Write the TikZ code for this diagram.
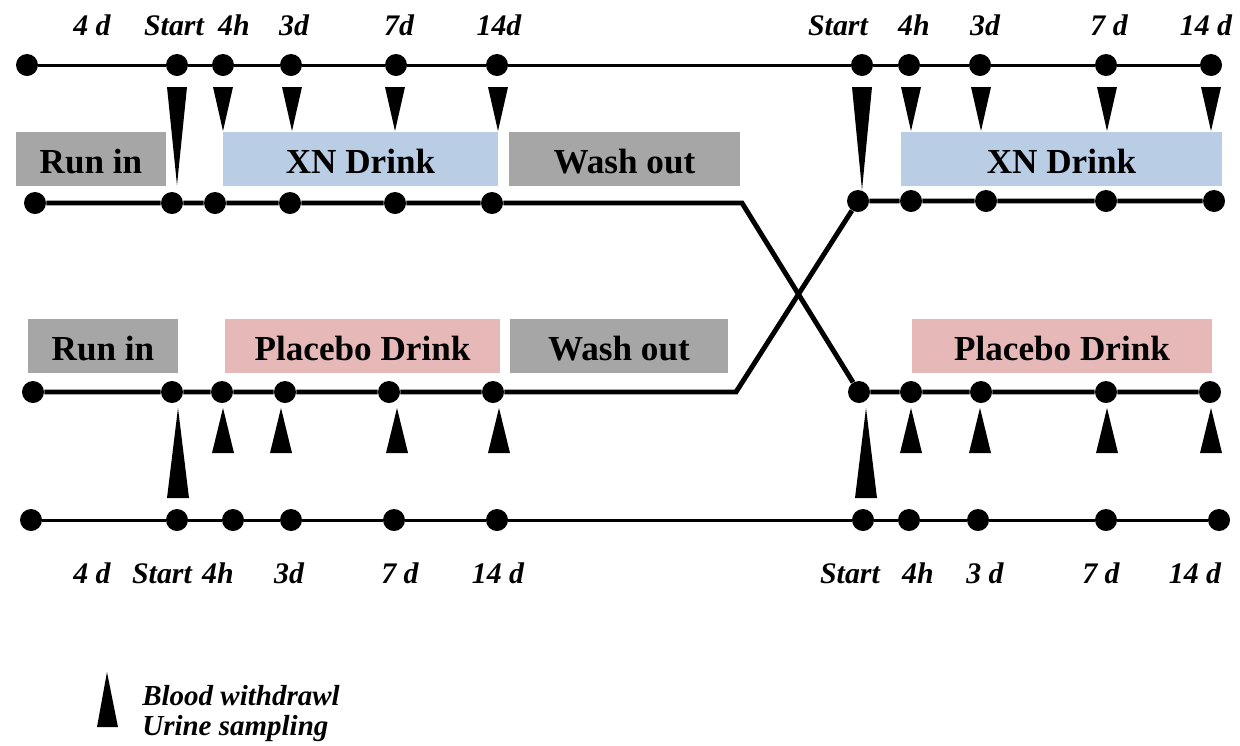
\documentclass[tikz,border=0pt]{standalone}
\usepackage{fontspec}
\setmainfont{Liberation Serif}
\usetikzlibrary{positioning}
\definecolor{washgray}{HTML}{A6A6A6}
\definecolor{xnblue}{HTML}{B9CDE5}
\definecolor{plcpink}{HTML}{E6B9B8}
\tikzset{dot/.style = {fill, circle, inner sep = 0, minimum size = 0.44cm}}
\tikzset{phase/.style = {inner sep = 0, minimum height = 1.08cm, text height = 17pt, text depth = 0pt, font = \fontsize{20}{24}\selectfont\bfseries}}
\tikzset{tlabel/.style = {anchor = base, inner sep = 0, font = \fontsize{17}{20}\selectfont\bfseries\itshape}}
\tikzset{tline/.style = {line width = 1.7pt}}
\tikzset{bline/.style = {line width = 2.8pt}}

\begin{document}
\begin{tikzpicture}[x=0.02cm, y=-0.02cm]
\useasboundingbox (0,0) rectangle (1240,745);

      % phases
      \node [phase, fill=washgray, minimum width=3cm] (runA) at (91,159) {Run in};
      \node [phase, fill=xnblue, minimum width=5.5cm] (xnA) at (360.5,159) {XN Drink};
      \node [phase, fill=washgray, minimum width=4.62cm] (washA) at (624.5,159) {Wash out};
      \node [phase, fill=xnblue, minimum width=6.42cm] (xnB) at (1061.5,159) {XN Drink};
      \node [phase, fill=washgray, minimum width=3cm] (runB) at (103,346) {Run in};
      \node [phase, fill=plcpink, minimum width=5.5cm] (plcA) at (362.5,346) {Placebo Drink};
      \node [phase, fill=washgray, minimum width=4.36cm] (washB) at (619,346) {Wash out};
      \node [phase, fill=plcpink, minimum width=6cm] (plcB) at (1062,346) {Placebo Drink};

      % time points
      \foreach \x [count=\i] in {27,177,223,291,396,497,862,909,980,1106,1211}
        \node [dot] (a\i) at (\x,65) {};
      \foreach \x [count=\i] in {35,172,215,290,395,492}
        \node [dot] (b\i) at (\x,203) {};
      \foreach \x [count=\i from 7] in {858,911,986,1106,1214}
        \node [dot] (b\i) at (\x,201) {};
      \foreach \x [count=\i] in {33,172,222,285,389,493,859,911,981,1106,1210}
        \node [dot] (c\i) at (\x,392) {};
      \foreach \x [count=\i] in {31,177,233,291,394,497,863,909,978,1106,1219}
        \node [dot] (d\i) at (\x,520) {};

      \coordinate (bendA) at (742,203);
      \coordinate (bendB) at (736,392);

      \draw [tline] (a1) -- (a2) -- (a3) -- (a4) -- (a5) -- (a6) -- (a7) -- (a8) -- (a9) -- (a10) -- (a11);
      \draw [bline] (b1) -- (b2) -- (b3) -- (b4) -- (b5) -- (b6) -- (bendA) -- (c7) -- (c8) -- (c9) -- (c10) -- (c11);
      \draw [bline] (c1) -- (c2) -- (c3) -- (c4) -- (c5) -- (c6) -- (bendB) -- (b7) -- (b8) -- (b9) -- (b10) -- (b11);
      \draw [tline] (d1) -- (d2) -- (d3) -- (d4) -- (d5) -- (d6) -- (d7) -- (d8) -- (d9) -- (d10) -- (d11);

      % sampling marks
      \foreach \x/\t in {177/185, 223/131, 292/131, 395/131, 498/131, 862/190, 911/131, 981/131, 1107/131, 1211/131}
        \fill (\x-10,87) -- (\x+10,87) -- (\x,\t) -- cycle;
      \foreach \x/\b in {178/498, 223/453, 281/453, 397/453, 499/453, 866/498, 911/453, 980/453, 1107/453, 1211/453}
        \fill (\x-11,\b) -- (\x+11,\b) -- (\x,408) -- cycle;

      % time labels
      \foreach \x/\lab [count=\i] in {92/{4 d}, 174/Start, 234/4h, 294/3d, 399/7d, 499/14d, 838/Start, 914/4h, 985/3d, 1109/{7 d}, 1206/{14 d}}
        \node [tlabel] (ta\i) at (\x,35) {\lab};
      \foreach \x/\lab [count=\i] in {92/{4 d}, 162/Start, 218/4h, 289/3d, 400/{7 d}, 498/{14 d}, 850/Start, 918/4h, 985/{3 d}, 1101/{7 d}, 1195/{14 d}}
        \node [tlabel] (tb\i) at (\x,583) {\lab};

      % legend
      \fill (97,727) -- (118,727) -- (107,672) -- cycle;
      \node [tlabel, anchor=base west, font=\fontsize{16.5}{18}\selectfont\bfseries\itshape] (blood) at (142,705) {Blood withdrawl};
      \node [tlabel, anchor=base west, font=\fontsize{16.5}{18}\selectfont\bfseries\itshape] (urine) at (142,735) {Urine sampling};
    \end{tikzpicture}
\end{document}
